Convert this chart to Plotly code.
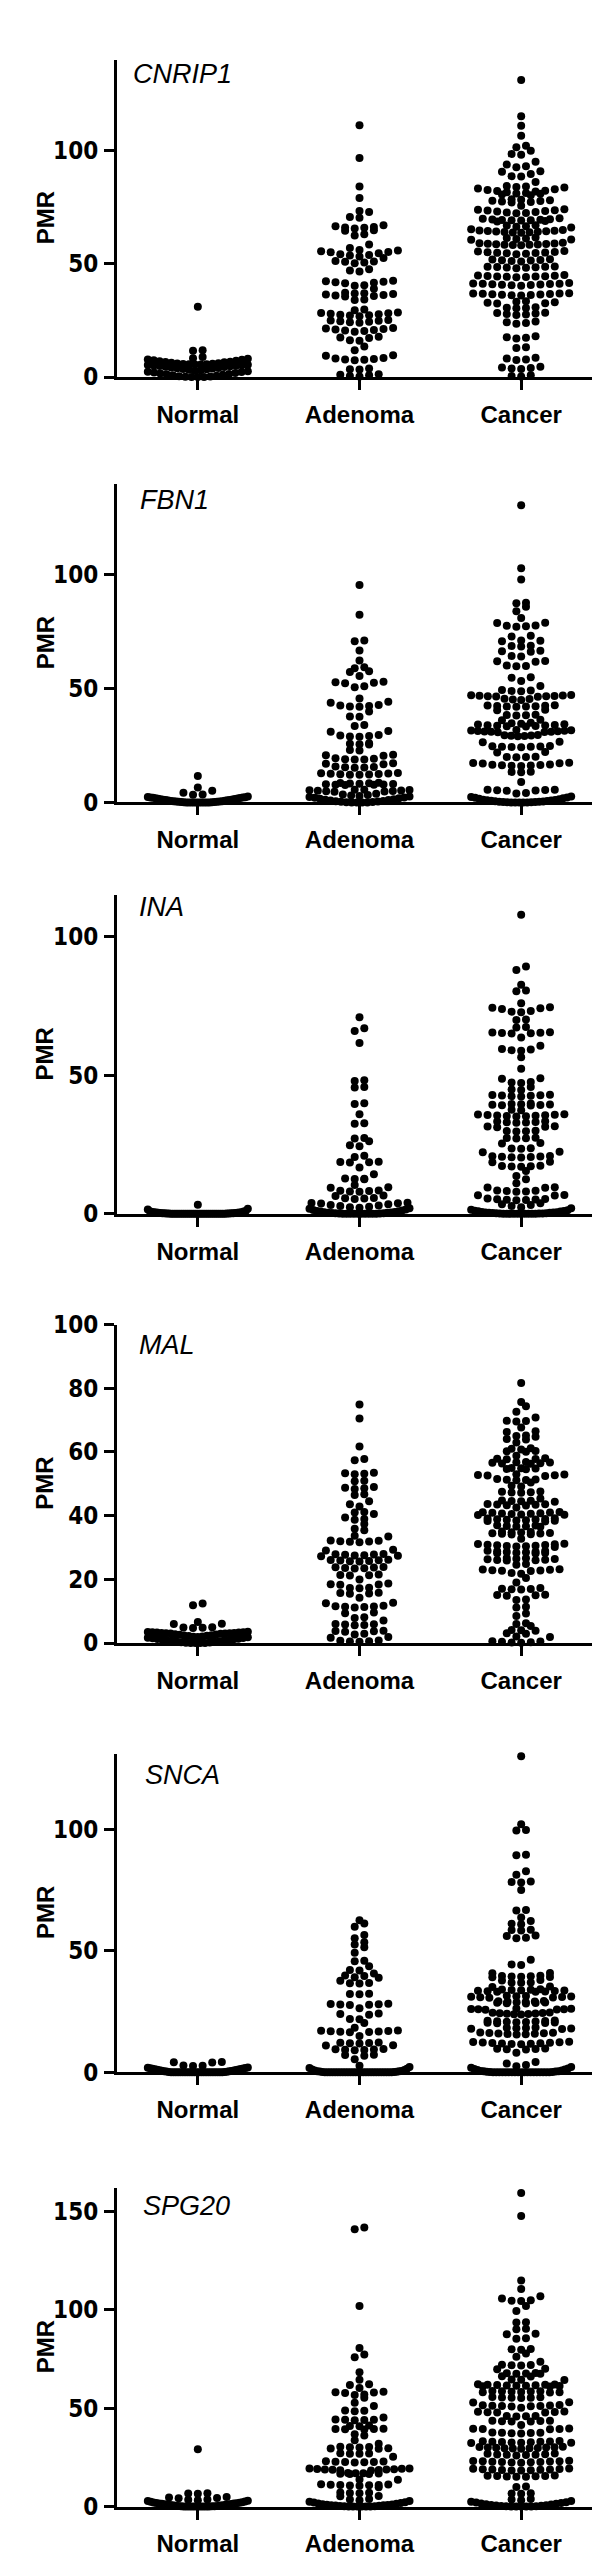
import numpy as np
import plotly.graph_objects as go

# ---------------- data (PMR values) ----------------
categories = ["Normal", "Adenoma", "Cancer"]
genes = ["CNRIP1", "FBN1", "INA", "MAL", "SNCA", "SPG20"]

cnrip1_normal = [31, 11.8, 11.6, 8.9, 8.3, 8.1, 7.8, 7.6, 7.4, 7.2, 7.0, 6.8, 6.6, 6.5, 6.3, 6.1, 6.0, 5.9,
                 5.8, 5.7, 5.6, 5.5, 5.5, 5.4, 5.3, 5.2, 5.1, 5.0, 4.9, 4.8, 4.6, 4.4, 4.2, 4.0, 3.9, 3.8,
                 3.6, 3.4, 3.2, 3.0, 2.8, 2.6, 2.4, 2.2, 2.0, 1.8, 1.6, 1.4, 1.2, 1.0, 0.8, 0.6, 0.4, 0.2,
                 0.1, 0.0, 0.0, 0.0]
cnrip1_adenoma = [111, 96.6, 84, 79, 73.2, 72.8, 70.6, 70.2, 67, 66.5, 66.2, 66, 65.8, 65.5, 64.7, 64.5, 63,
                  62.4, 58.5, 56.9, 56, 55.8, 55.5, 55.2, 55, 54.6, 54.2, 53.8, 53.6, 53.2, 52.5, 51.2, 51,
                  50.8, 50.5, 50.2, 47.5, 47, 46.6, 42.5, 42.3, 42, 41.8, 41.6, 41.4, 40.5, 40.3, 39, 37.2,
                  37, 36.8, 36.6, 36.4, 36.2, 36, 35.8, 35.5, 34.2, 34, 29.8, 29.5, 28.5, 28.3, 28.1, 27.9,
                  27.7, 27.5, 27.3, 27.1, 26.8, 25.2, 25, 24.8, 24.6, 24.4, 24.2, 24, 21.6, 21.4, 21.2, 21,
                  20.8, 20.5, 20.3, 20, 17.8, 17.5, 17.2, 16.2, 16, 13.5, 11.8, 9.6, 9.4, 8.4, 8.2, 8, 7.8,
                  7.6, 7.4, 3.8, 3.5, 3.3, 1.2, 1, 0.8, 0.5, 0.3]
cnrip1_cancer = [131, 115, 110.8, 106.4, 102, 101.3, 99.8, 98.4, 98, 95, 93.7, 93, 92.5, 90.8, 90.5, 89.5,
                 88.6, 88.4, 86, 84.2, 84, 83.8, 83.6, 83.2, 82.8, 82.5, 82.2, 82, 81.8, 81.5, 81.2, 81,
                 80.8, 80.5, 80.2, 78.4, 78.2, 78, 77.8, 77.6, 77.4, 77.2, 77, 75.5, 74, 73.8, 73.6, 73.4,
                 73.2, 73, 72.8, 72.6, 72.4, 72.2, 70, 69.8, 69.6, 69.5, 69.4, 69.3, 69.2, 69.1, 69, 68.8,
                 68.6, 67, 66.8, 66.5, 66.3, 66, 65.2, 64.8, 64.6, 64.5, 64.4, 64.3, 64.2, 64.1, 64, 63.9,
                 63.8, 63.6, 61.5, 61.3, 61.1, 60.9, 60.7, 60.5, 59.2, 59, 58.9, 58.8, 58.7, 58.6, 58.5,
                 58.4, 58.3, 58.2, 58.1, 55.6, 55.4, 55.2, 55, 54.9, 54.8, 54.7, 54.6, 54.4, 54.2, 52, 51.8,
                 51.6, 51.5, 51.4, 51.2, 51, 48.8, 48.7, 48.6, 48.5, 48.4, 48.3, 48.2, 48, 45, 44.8, 44.7,
                 44.6, 44.5, 44.4, 44.3, 44.2, 44.1, 44, 41.5, 41.3, 41.2, 41.1, 41, 40.9, 40.8, 40.7, 40.6,
                 40.5, 40.3, 37, 36.9, 36.8, 36.7, 36.6, 36.5, 36.4, 36.3, 36.2, 36.1, 36, 33.4, 33.2, 33,
                 32.8, 32.6, 32.4, 30.8, 30.6, 30.5, 30.4, 28.4, 28.2, 28, 27.8, 27.6, 27.4, 24.5, 24.2,
                 23.8, 23.5, 18, 17.6, 17.3, 17, 13.2, 12.8, 8.5, 8.2, 7.8, 7.5, 4.5, 4.2, 4, 3.8, 3.6,
                 0.8, 0.5, 0.3]

fbn1_normal = [11.6, 6.5, 5.1, 4.2, 3.5, 3.3, 2.6, 2.4, 2.3, 2.2, 2.1, 2.0, 1.9, 1.8, 1.7, 1.6, 1.5, 1.4,
               1.3, 1.2, 1.1, 1.0, 0.9, 0.8, 0.7, 0.6, 0.5, 0.45, 0.4, 0.35, 0.3, 0.25, 0.2, 0.15, 0.1,
               0.05, 0, 0, 0, 0, 0, 0, 0, 0, 0, 0]
fbn1_adenoma = [95.6, 82.5, 71.2, 70.8, 66.8, 62.4, 59.4, 59, 57.6, 57.3, 55.6, 53, 52.8, 52.6, 52.4, 51,
                50.6, 45.7, 44.2, 43.8, 42.8, 42.6, 42.4, 42.2, 42, 39.9, 37.8, 37.6, 34, 33.6, 31.4, 31,
                29.6, 29.4, 29.2, 29, 28.8, 26, 25.8, 25.6, 25.4, 23, 22.8, 20.9, 20.7, 20.5, 19.4, 19.2,
                19, 18.9, 18.8, 17.2, 17, 16.8, 15.8, 15.6, 15.4, 15.3, 15.2, 12.9, 12.8, 12.7, 12.6, 12.5,
                12.4, 12.3, 12.2, 12.1, 8.6, 8.5, 8.4, 8.3, 8.2, 8.1, 8, 7.9, 7.8, 7.7, 7.6, 5.6, 5.5, 5.4,
                5.3, 5.2, 5.1, 5, 4.9, 4.8, 4.7, 3.8, 3.5, 3.2, 3, 2.8, 2.6, 2.4, 2.2, 2, 1.8, 1.6, 1.4,
                1.2, 1, 0.8, 0.6, 0.5, 0.4, 0.3, 0.2, 0.1, 0, 0, 0, 0]
fbn1_cancer = [130.6, 102.9, 98, 87.8, 87.5, 86, 84, 81, 79, 78.8, 77.6, 77.4, 77.2, 77.8, 73.2, 72.9, 71.2,
               71, 70.8, 68.9, 68.7, 68.5, 66.6, 66.4, 66.2, 64.3, 64.1, 62.2, 62, 61.8, 60.2, 60, 59.8,
               55, 54.8, 53.4, 51.2, 49.4, 49.2, 49, 48.8, 47.2, 47.1, 47, 46.9, 46.8, 46.7, 46.6, 46.5,
               46.4, 45.6, 45.4, 45.2, 45, 42.7, 42.6, 42.5, 42.4, 42.3, 42.2, 42.1, 42, 40.7, 40.5, 38.5,
               38.4, 38.3, 38.2, 36.3, 36.1, 35, 34.8, 34.6, 34.4, 34.2, 34, 33.9, 33.8, 33.7, 33.6, 33.5,
               33.4, 31.8, 31.7, 31.6, 31.5, 31.4, 31.3, 31.2, 31.1, 31, 30.9, 30.8, 29.6, 29.5, 29.4, 29.3,
               29.2, 29.1, 26.6, 26.4, 24.8, 24.7, 24.6, 24.5, 24.4, 24.3, 24.2, 22.1, 21.9, 20.1, 20, 19.9,
               19.8, 17.4, 17.3, 17.2, 17.1, 16.6, 16.5, 16.4, 16.3, 16.2, 16.1, 16, 13.5, 13.4, 13.3, 9,
               5.6, 5.5, 5.4, 5.3, 5.2, 5.1, 4.1, 3.9, 2.6, 2.4, 2.2, 2, 1.8, 1.6, 1.4, 1.2, 1, 0.9, 0.8,
               0.7, 0.6, 0.5, 0.4, 0.3, 0.25, 0.2, 0.15, 0.1, 0.05, 0, 0, 0, 0, 0]

ina_normal = [3.3, 1.8, 1.6, 1.0, 0.9, 0.8, 0.7, 0.6, 0.55, 0.5, 0.45, 0.4, 0.35, 0.3, 0.28, 0.25, 0.22,
              0.2, 0.18, 0.15, 0.12, 0.1, 0.08, 0.05, 0.03, 0.02, 0.01, 0, 0, 0, 0, 0, 0, 0, 0, 0, 0, 0,
              0, 0, 0, 0, 0, 0, 0, 0, 0, 0, 0, 0]
ina_adenoma = [71, 67, 66, 61.7, 48.2, 48, 45.8, 45.6, 39.9, 39.7, 36, 32.7, 32.5, 27.4, 27.2, 26.2, 24.8,
               24.4, 21, 20.5, 18.8, 18.7, 18.6, 18.5, 16.7, 14.3, 12.8, 12.7, 12.6, 12.5, 10.4, 9.6, 9.4,
               8.4, 8.3, 8.2, 8.1, 8, 6.6, 6.4, 5.7, 5.6, 5.5, 5.4, 4, 3.9, 3.8, 3.7, 3.5, 3.2, 3.0, 2.8,
               2.6, 2.4, 2.2, 2.0, 1.8, 1.6, 1.4, 1.2, 1.0, 0.9, 0.8, 0.7, 0.6, 0.5, 0.4, 0.35, 0.3, 0.25,
               0.2, 0.15, 0.1, 0.05, 0.02, 0, 0, 0, 0, 0, 0, 0, 0]
ina_cancer = [108, 89.3, 88, 82.7, 80.6, 80.4, 76, 74.6, 74.4, 74.2, 74, 73.2, 73, 72.8, 70.2, 70, 67.5,
              67.3, 65.6, 65.5, 65.4, 65.3, 65.2, 65.1, 63.7, 60.7, 59.5, 59.3, 59.1, 58.9, 56.5, 52.4, 49,
              48.8, 47.6, 47.4, 47.2, 45.8, 44.9, 44.7, 43, 42.9, 42.8, 42.7, 42.6, 42.5, 42.4, 39.8,
              39.7, 39.6, 39.5, 39.4, 39.3, 39.2, 39.1, 37.6, 37.4, 36, 35.9, 35.8, 35.7, 35.6, 35.5,
              35.4, 35.3, 35.2, 35.1, 33.4, 33.3, 33.2, 33.1, 33, 32.9, 31.6, 31.5, 31.4, 31.3, 30, 29.9,
              29.8, 29.7, 27.5, 27.4, 27.3, 27.2, 25.6, 25.4, 23.7, 23.6, 23.5, 22.4, 22.2, 20.9, 20.8,
              20.7, 20.6, 20.5, 20.4, 20.3, 18.8, 18.6, 17.4, 17.3, 17.2, 17.1, 17, 15.5, 13.7, 12.5, 11,
              9.6, 9.5, 9.4, 8.4, 8.3, 8.2, 8.1, 8, 6.8, 6.7, 6.6, 5.5, 5.4, 5.3, 5.2, 5.1, 5, 4.9, 3.8,
              3.5, 3.2, 2.8, 2.4, 2, 1.5, 1.3, 1.1, 1, 0.9, 0.8, 0.7, 0.6, 0.5, 0.45, 0.4, 0.35, 0.3,
              0.25, 0.2, 0.15, 0.1, 0.08, 0.05, 0.03, 0, 0, 0, 0, 0, 0, 0, 0]

mal_normal = [12.4, 11.9, 6.6, 6.1, 6.0, 5.0, 4.9, 4.8, 4.7, 3.6, 3.5, 3.4, 3.4, 3.3, 3.3, 3.2, 3.2, 3.1,
              3.1, 3.0, 3.0, 2.9, 2.8, 2.7, 2.6, 2.5, 2.4, 2.3, 2.2, 2.1, 2.0, 1.9, 1.8, 1.7, 1.6, 1.5,
              1.4, 1.3, 1.2, 1.1, 1.0, 0.9, 0.8, 0.7, 0.6, 0.5, 0.4, 0.3, 0.2, 0.1, 0.05, 0, 0, 0]
mal_adenoma = [74.9, 70.5, 61.7, 57.8, 57.4, 53.5, 53.3, 53.2, 53, 51, 50.8, 49, 48.8, 48.6, 48.4, 46.7,
               46.5, 44.5, 43.6, 42.9, 41.2, 41, 40.5, 39.4, 39, 38.7, 37.4, 35.9, 35.4, 33.7, 33.5, 32.2,
               32.1, 32, 31.9, 31.8, 31.7, 29.3, 29.1, 28, 27.9, 27.8, 27.7, 27.6, 27.5, 27.4, 27.3, 26.2,
               26.1, 26, 25.9, 25.8, 25.7, 25.6, 23.9, 23.8, 23.7, 23.6, 23.5, 23.4, 21.5, 21.4, 21.3,
               21.2, 20, 18.7, 18.5, 18.4, 18.3, 17.4, 17.3, 17.2, 15.8, 15.7, 15.6, 15.5, 14.2, 12.7,
               12.5, 11.7, 11.6, 11.5, 11.4, 11.3, 11.2, 9.6, 9.4, 8.1, 7.9, 7.1, 6, 5.9, 5.8, 5.7, 5.6,
               3.9, 3.8, 3.7, 3.6, 2.9, 2.7, 1.9, 1.7, 0.8, 0.7, 0.6, 0.5, 0.4]
mal_cancer = [81.7, 75.7, 74.4, 72.6, 70.8, 69.8, 69.7, 69.6, 67.7, 66.5, 66.3, 65.2, 65, 64.8, 64.1, 63.9,
              63, 61.2, 61, 60.8, 60.3, 60.2, 60.1, 58.8, 58, 57.9, 57.8, 57.7, 56.9, 56.8, 56.7, 56.6,
              56.5, 56.4, 56.3, 55, 54.9, 54.8, 54.7, 54.6, 53, 52.9, 52.8, 52.7, 52.6, 52.5, 51.5, 51.4,
              51.3, 51.2, 51.1, 50.4, 49.4, 49.2, 47.6, 47.5, 47.4, 47.3, 47.2, 45.4, 44.8, 44.7, 44.6,
              44.5, 44.4, 43.7, 43.6, 43.5, 43.4, 43.3, 43.2, 42.6, 41.2, 41.1, 41, 40.9, 40.8, 40.7,
              40.6, 40.5, 40.4, 40.3, 40.2, 39.2, 39.1, 39, 38.9, 38.8, 38.7, 38.6, 38.5, 38.4, 38.3,
              38.2, 37, 36.9, 36.8, 36.7, 36.6, 36.5, 35, 34.9, 34.8, 34.7, 34.6, 34.5, 34.4, 34.3, 34.2,
              34.1, 32.8, 31.2, 31.1, 31, 30.9, 30.8, 30.7, 30.6, 30.5, 30.4, 30.3, 30.2, 29, 28.9, 28.8,
              28.7, 28.6, 28.5, 28.4, 28.3, 28.2, 28.1, 26.7, 26.6, 26.5, 26.4, 26.3, 26.2, 26.1, 26,
              25.9, 24.8, 24.6, 23.2, 23.1, 23, 22.9, 22.8, 22.7, 22.6, 22, 21.8, 20.4, 19, 17.3, 17.1,
              17, 16.9, 16.8, 15.2, 15.1, 15, 14.9, 13.7, 13.5, 11.4, 11.2, 9.3, 8.5, 6.2, 6, 5.4, 4.1, 4,
              3.9, 3.1, 2.9, 2.1, 1.9, 0.6, 0.5, 0.4, 0.3, 0.2, 0.1]

snca_normal = [4.3, 4.1, 4.0, 2.8, 2.7, 2.6, 2.0, 1.9, 1.8, 1.7, 1.6, 1.5, 1.4, 1.3, 1.2, 1.1, 1.0, 0.9,
               0.8, 0.7, 0.6, 0.5, 0.4, 0.3, 0.2, 0.15, 0.1, 0.05, 0, 0, 0, 0, 0, 0, 0, 0, 0, 0, 0, 0, 0,
               0, 0, 0, 0, 0, 0, 0, 0, 0]
snca_adenoma = [62.6, 61.2, 59.9, 56.5, 55.2, 53.5, 52.6, 51.5, 49.2, 45.9, 45.7, 43.6, 42.1, 41.9, 40.7,
                39.8, 39.6, 39.1, 38.9, 37.7, 36.7, 36.6, 36.5, 32.3, 32.2, 32.1, 28.2, 28.1, 28, 27.9,
                27.8, 27.7, 26.4, 24.2, 24, 23.7, 21.9, 21.8, 20.3, 18.3, 17.2, 17.1, 17, 16.9, 16.8, 16.7,
                16.6, 16.5, 14.9, 12.3, 12.2, 12.1, 12, 11.9, 11.1, 11, 9.6, 9.5, 9.4, 9.3, 9.2, 9.1, 7.2,
                7.1, 6.8, 5.4, 2.7, 2.2, 1.8, 1.5, 1.2, 1, 0.8, 0.6, 0.5, 0.4, 0.3, 0.2, 0.15, 0.1, 0.05,
                0, 0, 0, 0, 0, 0, 0, 0, 0, 0, 0, 0, 0, 0, 0, 0, 0, 0, 0, 0, 0, 0, 0, 0, 0, 0]
snca_cancer = [130, 102, 99.7, 99.5, 89.5, 89.3, 82.7, 81.3, 78.5, 78.3, 78.1, 75, 66.8, 66.6, 63.7, 62.3,
               61.1, 60.9, 58.7, 58.5, 58.3, 56.3, 56.1, 55.4, 55.2, 46.3, 44.4, 44.2, 40.9, 40.8, 39.7,
               39.6, 39.5, 39.4, 39.3, 39.2, 39.1, 38, 37.8, 37, 36.9, 36.8, 35.3, 35.1, 34.2, 34.1, 34,
               33.9, 33.8, 33.7, 33.6, 33.5, 33.4, 33.3, 33.2, 33.1, 31.5, 31.4, 31.3, 31.2, 31.1, 31,
               30.9, 30.8, 30.7, 29.3, 29.2, 29.1, 29, 28.9, 28.8, 28.7, 28.6, 28.5, 28.4, 28.3, 26.3,
               26.2, 26.1, 26, 25.9, 25.8, 25.7, 24.6, 24.5, 24.4, 24.3, 24.2, 24.1, 24, 23.9, 23.8, 21.3,
               21.2, 21.1, 21, 20.9, 20.8, 20.7, 20.6, 20.5, 20.4, 20.3, 20.2, 18.4, 18.3, 18.2, 18.1, 18,
               17.9, 17.8, 16.4, 16.3, 16.2, 16.1, 16, 15.9, 15.8, 15.7, 15.6, 12.6, 12.5, 12.4, 12.3,
               12.2, 12.1, 12, 11.9, 11.8, 11.7, 11.6, 9.8, 9.7, 9.6, 9.5, 9.4, 8.1, 4.3, 3.6, 3, 2.5,
               2.2, 1.9, 1.6, 1.4, 1.2, 1, 0.8, 0.6, 0.5, 0.4, 0.3, 0.2, 0.15, 0.1, 0.05, 0, 0, 0, 0, 0,
               0, 0, 0, 0, 0, 0, 0, 0, 0, 0, 0, 0, 0]

spg20_normal = [29.2, 6.8, 6.6, 6.5, 4.8, 4.6, 4.4, 4.2, 3.6, 3.4, 3.2, 3.0, 2.8, 2.6, 2.4, 2.2, 2.0, 1.9,
                1.8, 1.7, 1.6, 1.5, 1.4, 1.3, 1.2, 1.1, 1.0, 0.9, 0.8, 0.7, 0.6, 0.5, 0.4, 0.3, 0.25, 0.2,
                0.15, 0.1, 0.05, 0, 0, 0, 0, 0, 0, 0, 0, 0]
spg20_adenoma = [142, 141, 102, 80.7, 77.3, 76, 68.3, 64.5, 62.2, 61.8, 60.3, 58.4, 58.2, 58, 57.8, 57,
                 56.8, 55.3, 52.8, 51.2, 48.9, 48.7, 48.5, 45.3, 44.3, 44.2, 44.1, 44, 43.9, 41.2, 41,
                 40.8, 39.6, 39.5, 39.4, 39.3, 39.2, 36.8, 36.2, 33.7, 32, 30.4, 30.3, 30.2, 30.1, 29.6,
                 29.5, 29.4, 27.1, 27, 26.9, 26.8, 25.3, 23, 22.9, 22.8, 22.7, 22.6, 22.5, 22.4, 19.4,
                 19.3, 19.2, 19.1, 19, 18.9, 18.8, 18.7, 18.6, 18.5, 18.4, 17.1, 17, 16.9, 16.8, 16.7,
                 16.6, 16.5, 13.8, 13.6, 11.3, 11.2, 11.1, 11, 10.9, 10.8, 10.7, 10.6, 9.8, 7.1, 7, 6.9,
                 6.8, 5.4, 5.2, 3.8, 3.6, 3.2, 2.8, 2.5, 2.2, 2, 1.8, 1.6, 1.4, 1.2, 1, 0.9, 0.8, 0.7, 0.6,
                 0.5, 0.4, 0.3, 0.2, 0.1, 0.05, 0, 0, 0, 0, 0]
spg20_cancer = [159.5, 147.8, 115, 110.7, 107, 105.8, 104.9, 104.7, 104.5, 102, 99.5, 93.8, 93.6, 90.4,
                90.2, 87.9, 87.7, 85.6, 85.4, 80.2, 80, 79.8, 77.8, 76.2, 73.7, 72.1, 72, 71.9, 71.8, 70.1,
                69.9, 67.9, 67.8, 67.7, 67.6, 67.5, 66.3, 66.1, 64.6, 64.5, 64.4, 62.2, 62.1, 62, 61.9,
                61.8, 61.7, 61.6, 61.5, 61.4, 61.3, 61.2, 61.1, 58.8, 58.7, 58.6, 58.5, 58.4, 58.3, 58.2,
                58.1, 58, 55.7, 55.6, 55.5, 55.4, 55.3, 55.2, 53.1, 52.9, 51.6, 51.5, 51.4, 51.3, 51.2,
                51.1, 51, 50.9, 50.3, 48.3, 48.2, 48.1, 48, 47.9, 47.8, 46.1, 46, 45.9, 45.8, 43.7, 43.6,
                43.5, 43.4, 43.3, 43.2, 41.5, 39.7, 39.6, 39.5, 39.4, 39.3, 37.7, 37.6, 37.5, 37.4, 37.3,
                37.2, 33.3, 33.2, 33.1, 33, 32.9, 32.8, 32.7, 32.6, 32.5, 32.4, 32.3, 30.4, 30.3, 30.2,
                30.1, 30, 29.9, 29.8, 29.7, 29.6, 29.5, 29.4, 27, 26.8, 26.6, 26.5, 26.4, 26.3, 26.2, 26,
                23.3, 23.2, 23.1, 23, 22.9, 22.8, 22.7, 22.6, 22.5, 22.4, 22.3, 19.3, 19.2, 19.1, 19,
                18.9, 18.8, 18.7, 18.6, 18.5, 18.4, 18.3, 15.8, 15.7, 15.6, 15.5, 15.4, 15.3, 15.2, 15.1,
                10.2, 9.9, 6.8, 6.6, 6.5, 3.8, 3.6, 3.2, 2.8, 2.5, 2.2, 2, 1.8, 1.6, 1.4, 1.2, 1, 0.8, 0.6,
                0.5, 0.4, 0.3, 0.2, 0.1, 0.05, 0, 0, 0, 0]

gene_data = {
    "CNRIP1": [cnrip1_normal, cnrip1_adenoma, cnrip1_cancer],
    "FBN1": [fbn1_normal, fbn1_adenoma, fbn1_cancer],
    "INA": [ina_normal, ina_adenoma, ina_cancer],
    "MAL": [mal_normal, mal_adenoma, mal_cancer],
    "SNCA": [snca_normal, snca_adenoma, snca_cancer],
    "SPG20": [spg20_normal, spg20_adenoma, spg20_cancer],
}
y_max = {"CNRIP1": 140, "FBN1": 140, "INA": 115, "MAL": 100, "SNCA": 131, "SPG20": 162}
y_ticks = {"CNRIP1": [0, 50, 100], "FBN1": [0, 50, 100], "INA": [0, 50, 100],
           "MAL": [0, 20, 40, 60, 80, 100], "SNCA": [0, 50, 100], "SPG20": [0, 50, 100, 150]}

# ---------------- layout (pixels) ----------------
W, H = 600, 2562
X_LEFT, X_RIGHT = 109, 594
panel_px = {  # (axis top, axis zero) in pixels from top
    "CNRIP1": (38, 359), "FBN1": (467, 789), "INA": (883, 1205),
    "MAL": (1317, 1639), "SNCA": (1751, 2073), "SPG20": (2190, 2512),
}
title_px = {"CNRIP1": (123, 53), "FBN1": (130, 483), "INA": (129, 895),
            "MAL": (129, 1338), "SNCA": (135, 1772), "SPG20": (133, 2208)}

CAT_PX = (X_RIGHT - X_LEFT) / 3.0
DOT_GAP_PX = 9.6
BIN_PX = 6.0
HALF_PX = 50.0


def swarm(values, ppu):
    v = sorted(float(a) for a in values)
    bins = []
    start = None
    for val in v:
        if start is None or (val - start) * ppu > BIN_PX:
            bins.append([val])
            start = val
        else:
            bins[-1].append(val)
    xs, ys = [], []
    for b in bins:
        n = len(b)
        sp = DOT_GAP_PX if (n - 1) * DOT_GAP_PX <= 2 * HALF_PX else 2 * HALF_PX / (n - 1)
        pos = [(i - (n - 1) / 2.0) * sp for i in range(n)]
        pos = sorted(pos, key=lambda p: (round(abs(p), 6), p))
        for val, p in zip(b, pos):
            xs.append(p / CAT_PX)
            ys.append(val)
    return xs, ys


fig = go.Figure()
layout = dict(width=W, height=H, autosize=False, margin=dict(l=0, r=0, t=0, b=0),
              paper_bgcolor="white", plot_bgcolor="white", showlegend=False)
annotations = []

tick_font_y = dict(family="Liberation Sans Narrow, Arial Narrow, DejaVu Sans Condensed, sans-serif",
                   size=24, color="black", weight="bold")
tick_font_x = dict(family="Liberation Sans, Arial, sans-serif", size=24, color="black", weight="bold")

for k, gname in enumerate(genes):
    idx = k + 1
    top, zero = panel_px[gname]
    ppu = (zero - top) / y_max[gname]
    xa = "x" if idx == 1 else f"x{idx}"
    ya = "y" if idx == 1 else f"y{idx}"
    for ci, vals in enumerate(gene_data[gname]):
        dx, ys = swarm(vals, ppu)
        fig.add_trace(go.Scatter(
            x=[ci + d for d in dx], y=ys, mode="markers", xaxis=xa, yaxis=ya,
            marker=dict(size=8, color="black", line=dict(width=0)),
            cliponaxis=False, hoverinfo="skip"))
    dom_y = [1 - zero / H, 1 - top / H]
    layout[f"xaxis{idx}"] = dict(
        domain=[X_LEFT / W, X_RIGHT / W], anchor=ya, range=[-0.5, 2.5],
        tickmode="array", tickvals=[0, 1, 2], ticktext=categories,
        showline=True, linewidth=3, linecolor="black", ticks="outside", ticklen=10,
        tickwidth=3, tickcolor="black", showgrid=False, zeroline=False,
        tickfont=tick_font_x, ticklabelstandoff=4, fixedrange=True)
    layout[f"yaxis{idx}"] = dict(
        domain=dom_y, anchor=xa, range=[0, y_max[gname]],
        tickmode="array", tickvals=y_ticks[gname], ticktext=[str(t) for t in y_ticks[gname]],
        showline=True, linewidth=3, linecolor="black", ticks="outside", ticklen=10,
        tickwidth=3, tickcolor="black", showgrid=False, zeroline=False,
        tickfont=tick_font_y, ticklabelstandoff=1, fixedrange=True)
    annotations.append(dict(
        text="PMR", xref="paper", yref="paper", x=37 / W, y=1 - (top + zero) / 2 / H,
        xanchor="center", yanchor="middle", textangle=-90, showarrow=False,
        font=dict(family="Liberation Sans, Arial, sans-serif", size=24, color="black", weight="bold")))
    tx, ty = title_px[gname]
    annotations.append(dict(
        text=gname, xref="paper", yref="paper", x=tx / W, y=1 - ty / H,
        xanchor="left", yanchor="middle", showarrow=False,
        font=dict(family="Liberation Sans, Arial, sans-serif", size=27, color="black", style="italic")))

layout["annotations"] = annotations
fig.update_layout(**layout)
fig.write_html("out.html")
